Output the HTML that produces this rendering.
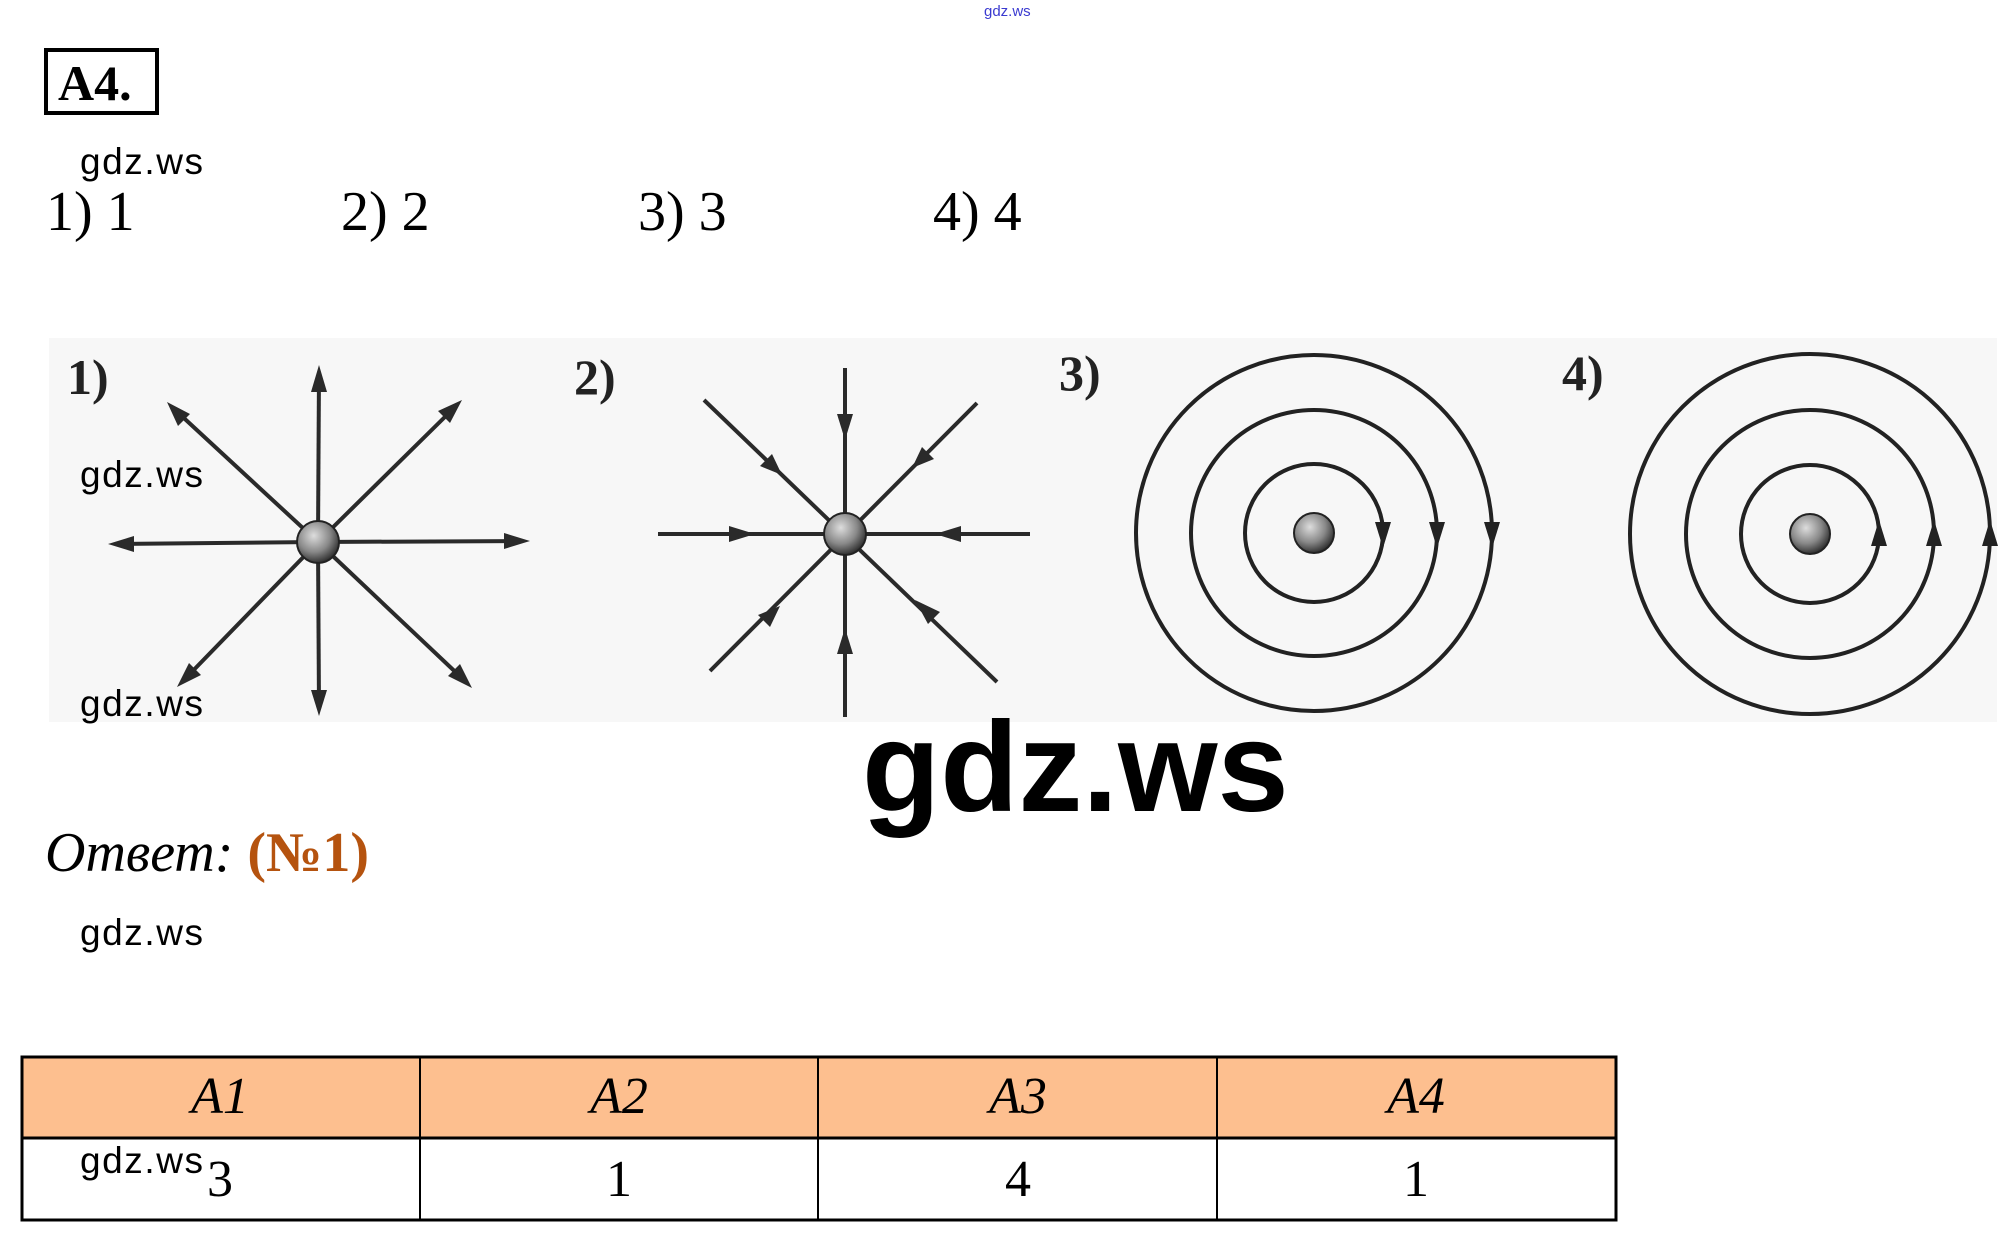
<!DOCTYPE html>
<html><head><meta charset="utf-8"><style>
html,body{margin:0;padding:0;background:#fff;}
body{width:2014px;height:1244px;position:relative;overflow:hidden;}
svg{position:absolute;left:0;top:0;}
</style></head><body>
<svg width="2014" height="1244" viewBox="0 0 2014 1244" xmlns="http://www.w3.org/2000/svg">
<defs>
<radialGradient id="ball" cx="40%" cy="35%" r="65%"><stop offset="0" stop-color="#ddd"/><stop offset="0.6" stop-color="#888"/><stop offset="1" stop-color="#333"/></radialGradient>
</defs>
<text x="984" y="16" font-family="Liberation Sans, sans-serif" font-size="15" fill="#3a3ad0">gdz.ws</text>
<rect x="46" y="50" width="111" height="63" fill="none" stroke="#000" stroke-width="4"/>
<text x="58" y="100" font-family="Liberation Serif, serif" font-weight="bold" font-size="50">A4.</text>
<g font-family="Liberation Serif, serif" font-size="56">
<text x="46" y="230">1) 1</text>
<text x="341" y="230">2) 2</text>
<text x="638" y="230">3) 3</text>
<text x="933" y="230">4) 4</text>
</g>
<rect x="49" y="338" width="1948" height="384" fill="#f7f7f7"/>
<g font-family="Liberation Serif, serif" font-weight="bold" font-size="50" fill="#222">
<text x="67" y="394">1)</text><text x="574" y="394">2)</text><text x="1059" y="390">3)</text><text x="1562" y="390">4)</text>
</g>
<!-- fig1 -->
<g stroke="#2a2a2a" stroke-width="4" fill="#2a2a2a">
<line x1="318" y1="542" x2="319" y2="372"/><polygon points="319,365 311,392 327,392" stroke="none"/>
<line x1="318" y1="542" x2="319" y2="708"/><polygon points="319,716 311,690 327,690" stroke="none"/>
<line x1="318" y1="542" x2="116" y2="544"/><polygon points="108,544 134,536 134,552" stroke="none"/>
<line x1="318" y1="542" x2="522" y2="541"/><polygon points="530,541 504,533 504,549" stroke="none"/>
<line x1="318" y1="542" x2="173" y2="408"/><polygon points="167,402 178,426 190,414" stroke="none"/>
<line x1="318" y1="542" x2="456" y2="406"/><polygon points="462,400 438,411 450,423" stroke="none"/>
<line x1="318" y1="542" x2="183" y2="681"/><polygon points="177,687 189,663 201,675" stroke="none"/>
<line x1="318" y1="542" x2="466" y2="682"/><polygon points="472,688 448,676 460,664" stroke="none"/>
</g>
<circle cx="318" cy="542" r="21" fill="url(#ball)" stroke="#222" stroke-width="2"/>
<!-- fig2 -->
<g stroke="#2a2a2a" stroke-width="4" fill="#2a2a2a">
<line x1="845" y1="368" x2="845" y2="717"/>
<line x1="658" y1="534" x2="1030" y2="534"/>
<line x1="704" y1="400" x2="997" y2="682"/>
<line x1="977" y1="403" x2="710" y2="671"/>
<polygon points="845,440 837,414 853,414" stroke="none"/>
<polygon points="845,628 837,654 853,654" stroke="none"/>
<polygon points="755,534 729,526 729,542" stroke="none"/>
<polygon points="935,534 961,526 961,542" stroke="none"/>
<polygon points="782,475 760,466 772,454" stroke="none"/>
<polygon points="912,468 934,459 922,447" stroke="none"/>
<polygon points="780,606 758,615 770,627" stroke="none"/>
<polygon points="915,600 928,624 940,612" stroke="none"/>
</g>
<circle cx="845" cy="534" r="21" fill="url(#ball)" stroke="#222" stroke-width="2"/>
<!-- fig3 -->
<g fill="none" stroke="#222" stroke-width="4">
<circle cx="1314" cy="533" r="69"/><circle cx="1314" cy="533" r="123"/><circle cx="1314" cy="533" r="178"/>
</g>
<g fill="#222">
<polygon points="1383,548 1375,522 1391,522"/><polygon points="1437,548 1429,522 1445,522"/><polygon points="1492,548 1484,522 1500,522"/>
</g>
<circle cx="1314" cy="533" r="20" fill="url(#ball)" stroke="#222" stroke-width="2"/>
<!-- fig4 -->
<g fill="none" stroke="#222" stroke-width="4">
<circle cx="1810" cy="534" r="69"/><circle cx="1810" cy="534" r="124"/><circle cx="1810" cy="534" r="180"/>
</g>
<g fill="#222">
<polygon points="1879,520 1871,546 1887,546"/><polygon points="1934,520 1926,546 1942,546"/><polygon points="1990,520 1982,546 1998,546"/>
</g>
<circle cx="1810" cy="534" r="20" fill="url(#ball)" stroke="#222" stroke-width="2"/>
<text x="862" y="811" font-family="Liberation Sans, sans-serif" font-weight="bold" font-size="128">gdz.ws</text>
<text x="45" y="871" font-family="Liberation Serif, serif" font-style="italic" font-size="56">Ответ: <tspan fill="#b5530f" font-weight="bold" font-style="normal">(№1)</tspan></text>
<!-- table -->
<rect x="22" y="1057" width="1594" height="81" fill="#fdbf8f"/>
<g stroke="#000" fill="none">
<rect x="22" y="1057" width="1594" height="163" stroke-width="3"/>
<line x1="22" y1="1138" x2="1616" y2="1138" stroke-width="3"/>
<line x1="420" y1="1057" x2="420" y2="1220" stroke-width="2"/>
<line x1="818" y1="1057" x2="818" y2="1220" stroke-width="2"/>
<line x1="1217" y1="1057" x2="1217" y2="1220" stroke-width="2"/>
</g>
<g font-family="Liberation Serif, serif" font-size="52" text-anchor="middle">
<g font-style="italic"><text x="220" y="1113">A1</text><text x="619" y="1113">A2</text><text x="1018" y="1113">A3</text><text x="1416" y="1113">A4</text></g>
<text x="220" y="1196">3</text><text x="619" y="1196">1</text><text x="1018" y="1196">4</text><text x="1416" y="1196">1</text>
</g>
<g font-family="Liberation Sans, sans-serif" font-size="37" fill="#000">
<text x="80" y="174" textLength="123">gdz.ws</text>
<text x="80" y="487" textLength="123">gdz.ws</text>
<text x="80" y="716" textLength="123">gdz.ws</text>
<text x="80" y="945" textLength="123">gdz.ws</text>
<text x="80" y="1173" textLength="123">gdz.ws</text>
</g>
</svg>
</body></html>
